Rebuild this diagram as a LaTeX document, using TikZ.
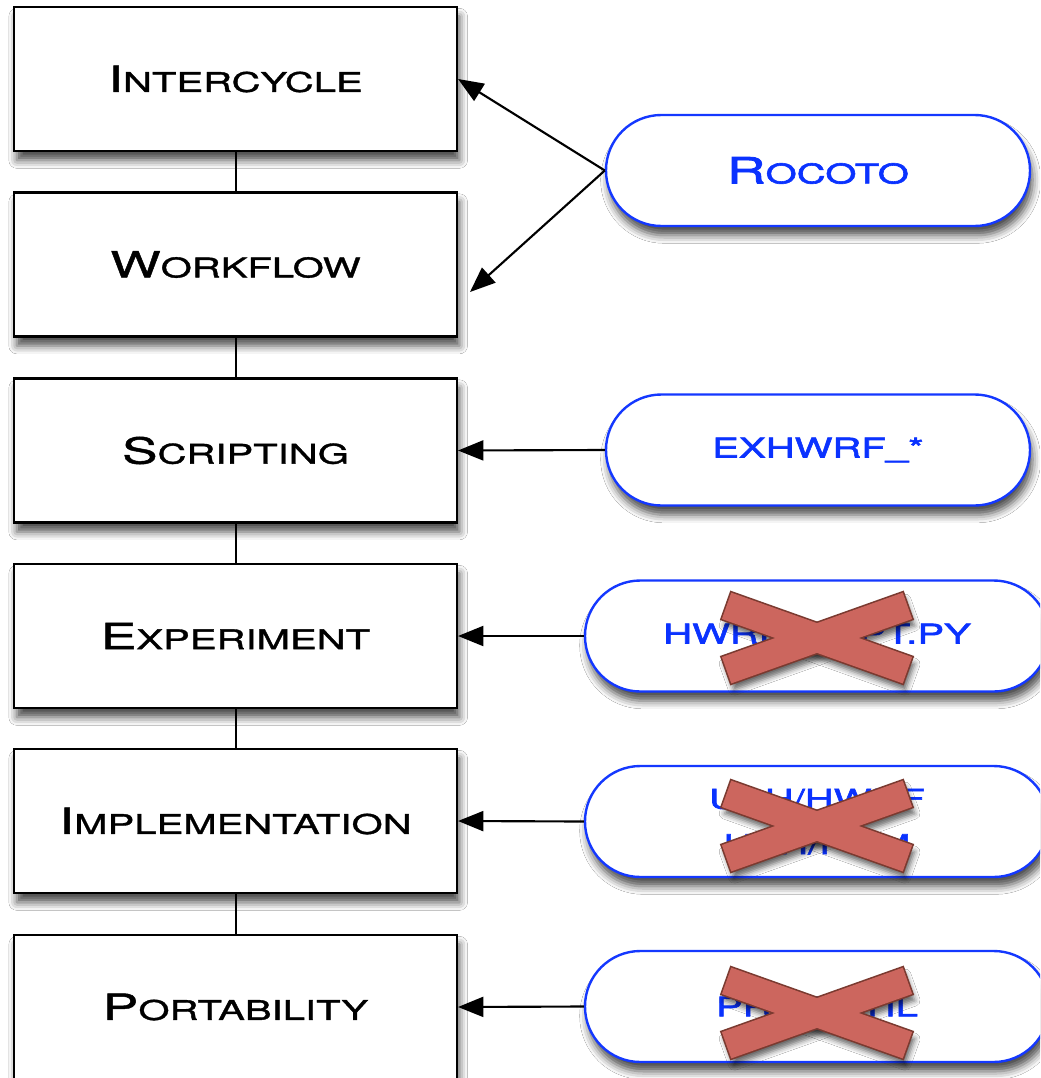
\documentclass[tikz,border=0pt]{standalone}
\usepackage{fontspec}
\newfontfamily\cpfont[FakeStretch=1.48,FakeBold=1.3]{TeX Gyre Heros}
\newfontfamily\cpbfont[FakeStretch=1.48,FakeBold=2.2]{TeX Gyre Heros}
\usetikzlibrary{arrows.meta,shadows.blur}
\definecolor{pillblue}{HTML}{1438FF}
\definecolor{txtblue}{HTML}{0A32FF}
\definecolor{xfill}{HTML}{CC665E}
\definecolor{xedge}{HTML}{7A3A30}
\newcommand\Cp[1]{{\fontsize{27pt}{32pt}\selectfont #1}}
\begin{document}
\begin{tikzpicture}[x=0.75pt,y=-0.75pt,
  lbl/.style={font=\cpfont\fontsize{20.3pt}{34pt}\selectfont},
  shad/.style={blur shadow={shadow xshift=2pt, shadow yshift=-7pt, shadow blur radius=6pt, shadow opacity=70}},
  box/.style={lbl, draw=black, line width=1.8pt, fill=white, minimum width=332pt, minimum height=108pt, inner sep=0pt, shad},
  pill/.style={font=\cpbfont\fontsize{20.3pt}{34pt}\selectfont, text=txtblue, draw=pillblue, line width=1.8pt, fill=white, minimum height=83.25pt, rounded corners=41.5pt, inner sep=0pt, align=center, shad},
  arr/.style={line width=1.6pt, -{Triangle[length=19pt,width=15pt]}},
  link/.style={line width=1.5pt},
  xmark/.pic={
    \foreach \a in {-19.6,19.6} \fill[white, rotate=\a, blur shadow={shadow xshift=2pt, shadow yshift=-5pt, shadow blur radius=4pt, shadow opacity=60}] (-96,-14) rectangle (96,14);
    \foreach \a in {-19.6,19.6} \draw[xedge, line width=2.4pt, rotate=\a] (-96,-14) rectangle (96,14);
    \foreach \a in {-19.6,19.6} \fill[xfill, rotate=\a] (-96,-14) rectangle (96,14);
  }
]
\useasboundingbox (0,0) rectangle (1040,1078);
\clip (0,0) rectangle (1040,1078);
\fill[white] (0,0) rectangle (1040,1078);

% boxes
\node[box] (b1) at (235.5,79) {\Cp{I}NTERCYCLE};
\node[box] (b2) at (235.5,264.5) {\Cp{W}ORKFLOW};
\node[box] (b3) at (235.5,450.5) {\Cp{S}CRIPTING};
\node[box] (b4) at (235.5,636) {\Cp{E}XPERIMENT};
\node[box] (b5) at (235.5,821) {\Cp{I}MPLEMENTATION};
\node[box] (b6) at (235.5,1007) {\Cp{P}ORTABILITY};

\draw[link] (b1.south) -- (b2.north);
\draw[link] (b2.south) -- (b3.north);
\draw[link] (b3.south) -- (b4.north);
\draw[link] (b4.south) -- (b5.north);
\draw[link] (b5.south) -- (b6.north);

% pills
\node[pill, minimum width=318pt] (p1) at (818,170.5) {\Cp{R}OCOTO};
\node[pill, minimum width=318pt] (p2) at (818,450) {EXHWRF\_*};
\node[pill, minimum width=348pt] (p3) at (817,636) {HWRF\_EXPT.PY};
\node[pill, minimum width=348pt] (p4) at (817,821.5) {USH/HWRF\\USH/POM};
\node[pill, minimum width=348pt] (p5) at (817,1006.5) {PRODUTIL};

% crosses
\pic at (817,638) {xmark};
\pic at (817,826) {xmark};
\pic at (817,1013) {xmark};

% arrows
\coordinate (wfend) at (470,292);
\draw[arr] (p1.west) -- (b1.east);
\draw[arr] (p1.west) -- (wfend);
\draw[arr] (p2.west) -- (b3.east);
\draw[arr] (p3.west) -- (b4.east);
\draw[arr] (p4.west) -- (b5.east);
\draw[arr] (p5.west) -- (b6.east);
\end{tikzpicture}
\end{document}
